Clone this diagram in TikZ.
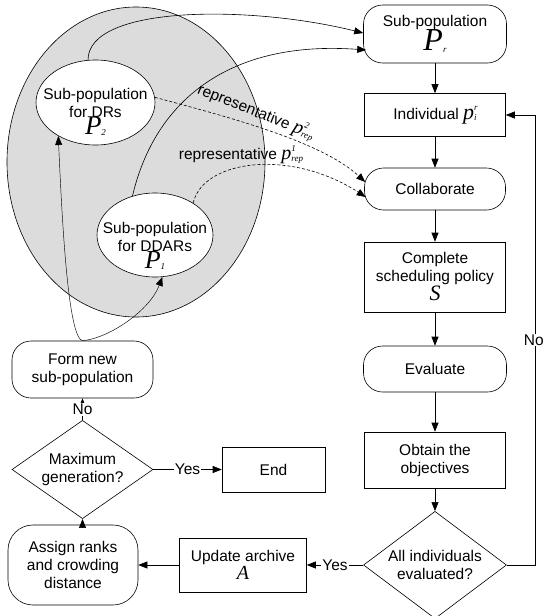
\documentclass[tikz,border=0pt]{standalone}
\usepackage{fontspec}
\setmainfont{Liberation Sans}
\newfontfamily\symfont{Liberation Serif}
\usetikzlibrary{arrows.meta,positioning,shapes.geometric}
\definecolor{poolgray}{HTML}{DCDCDC}
\newcommand{\symvar}[4]{%
  {\fontsize{#1}{#1}\selectfont\symfont\itshape #2}%
  {\fontsize{9}{9}\selectfont\symfont\itshape
    \makebox[0pt][l]{\raisebox{\dimexpr #1pt*40/100\relax}{#4}}%
    \raisebox{-\dimexpr #1pt*6/100\relax}{#3}}}
\tikzset{
  txtfont/.style={font=\fontsize{15.5}{18}\selectfont},
  procnode/.style={rectangle,draw,line width=0.6pt,minimum width=141pt,align=center,txtfont,inner sep=2pt},
  termnode/.style={procnode,rounded corners=19pt},
  decnode/.style={diamond,draw,line width=0.6pt,align=center,txtfont,inner sep=-4pt},
  popnode/.style={ellipse,draw,line width=0.6pt,fill=white},
  poptext/.style={align=center,txtfont,inner sep=0pt},
  flowedge/.style={-{Triangle[length=9pt,width=7pt]},line width=0.6pt},
  seededge/.style={flowedge,line width=0.45pt},
  repedge/.style={flowedge,dash pattern=on 3pt off 2pt},
  edgelabel/.style={txtfont,fill=white,inner sep=1pt},
}
\begin{document}
\begin{tikzpicture}[x=1pt,y=-1pt]
  \useasboundingbox (0,0) rectangle (543,616);
  \node[ellipse,draw,line width=0.6pt,fill=poolgray,minimum width=258pt,minimum height=310pt] (pool) at (136,162) {};
  \node[popnode,minimum width=119pt,minimum height=85pt] (p2) at (95.5,102.5) {};
  \node[poptext] (p2txt) at (95.5,112) {Sub-population\\for DRs\\[-1pt]\symvar{27}{P}{2}{}};
  \node[popnode,minimum width=116pt,minimum height=84pt] (p1) at (155,235) {};
  \node[poptext] (p1txt) at (155,246) {Sub-population\\for DDARs\\[-1pt]\symvar{26}{P}{1}{}};

  \node[termnode,minimum width=143pt,minimum height=58pt] (pr) at (435,34) {Sub-population\\[-1pt]\symvar{32}{P}{r}{}};
  \node[procnode,minimum height=43pt] (ind) at (435,115) {Individual \symvar{22}{p}{i}{r}};
  \node[termnode,minimum height=42pt] (coll) at (435,189) {Collaborate};
  \node[procnode,minimum height=70pt] (sched) at (435,277) {Complete\\scheduling policy\\[1pt]\symvar{22}{S}{}{}};
  \node[termnode,minimum width=143pt,minimum height=46pt] (eval) at (435,369) {Evaluate};
  \node[procnode,minimum height=56pt] (obt) at (435,460) {Obtain the\\objectives};
  \node[decnode,minimum width=143pt,minimum height=96pt] (all) at (435,565) {All individuals\\evaluated?};
  \node[procnode,minimum width=127pt,minimum height=54pt] (upd) at (243,565) {Update archive\\[0pt]\symvar{20}{A}{}{}};
  \node[termnode,rounded corners=25pt,minimum width=130pt,minimum height=80pt] (asg) at (73,565) {Assign ranks\\and crowding\\distance};
  \node[decnode,minimum width=141pt,minimum height=65pt] (maxg) at (82.5,469.5) {Maximum\\generation?};
  \node[procnode,minimum width=103pt,minimum height=45pt] (fin) at (273.5,469.5) {End};
  \node[termnode,minimum height=57pt] (form) at (82.5,369.5) {Form new\\sub-population};

  \draw[flowedge] (pr) -- (ind);
  \draw[flowedge] (ind) -- (coll);
  \draw[flowedge] (coll) -- (sched);
  \draw[flowedge] (sched) -- (eval);
  \draw[flowedge] (eval) -- (obt);
  \draw[flowedge] (obt) -- (all);
  \draw[flowedge] (all.east) -- ++(28,0) |- node[edgelabel,pos=0.25,inner xsep=0pt,xshift=-1pt] (nolbl2) {No} (ind.east);
  \draw[flowedge] (all.west) -- node[edgelabel] (yeslbl2) {Yes} (upd.east);
  \draw[flowedge] (upd) -- (asg);
  \draw[flowedge] (asg.north -| maxg.south) -- (maxg.south);
  \draw[flowedge] (maxg.east) -- node[edgelabel] (yeslbl1) {Yes} (fin.west);
  \draw[flowedge] (maxg.north) -- node[edgelabel] (nolbl1) {No} (form.south);

  \draw[seededge] (form.north) .. controls (68,338) and (62,220) .. (p2.222);
  \draw[seededge] (form.north) .. controls (110,338) and (150,310) .. (p1.280);
  \draw[flowedge] (p2.100) .. controls (88,5) and (250,5) .. ([yshift=1pt]pr.west);
  \draw[flowedge] (p1.120) .. controls (155,100) and (230,40) .. ([xshift=3pt,yshift=-16pt]pr.west);
  \draw[repedge] (p2.5) .. controls (220,115) and (320,140) .. ([xshift=1pt,yshift=7pt]coll.west);
  \draw[repedge] (p1.40) .. controls (203,160) and (290,148) .. ([xshift=1.5pt,yshift=-8pt]coll.west);
  \node[txtfont,rotate=-22,inner sep=0pt] (rep2) at (256,112) {representative \symvar{20}{p}{rep}{2}};
  \node[txtfont,inner sep=0pt] (rep1) at (241,155) {representative \symvar{20}{p}{rep}{1}};
\end{tikzpicture}
\end{document}
